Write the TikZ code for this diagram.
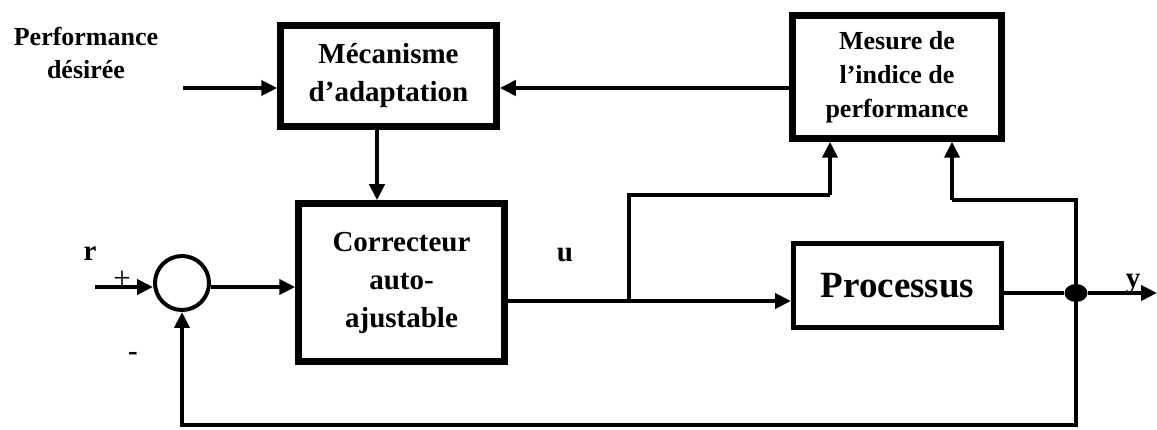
\documentclass[tikz,border=0pt]{standalone}
\usepackage{fontspec}
\setmainfont{Liberation Serif}
\usetikzlibrary{arrows.meta,calc,shapes.geometric}
\tikzset{
  blk/.style={draw, line width=6.5pt, align=center, inner sep=0pt,
    font=\bfseries\fontsize{29}{38}\selectfont},
  wire/.style={line width=4pt},
  arr/.style={wire, -{Triangle[length=16pt,width=15pt]}},
  lbl/.style={inner sep=0pt, font=\bfseries\fontsize{29}{34}\selectfont},
}
\begin{document}
\begin{tikzpicture}[x=1pt,y=-1pt]
\useasboundingbox (0,0) rectangle (1157,430);

% blocks
\node[blk, minimum width=216pt, minimum height=101pt] (meca) at (388.5,76)
  {Mécanisme\\d’adaptation};
\node[blk, minimum width=206pt, minimum height=158pt] (corr) at (401.5,282.5)
  {Correcteur\\auto-\\ajustable};
\node[blk, minimum width=209pt, minimum height=123pt,
  font=\bfseries\fontsize{26}{34}\selectfont] (mes) at (897,77)
  {Mesure de\\l’indice de\\performance};
\node[blk, line width=5pt, minimum width=208pt, minimum height=84pt,
  font=\bfseries\fontsize{37}{40}\selectfont] (proc) at (897.5,285.5) {Processus};

% summing junction and pick-off point
\node[draw, circle, line width=4pt, minimum size=54pt, inner sep=0pt] (sum) at (182,283) {};
\node[fill, ellipse, minimum width=23pt, minimum height=18pt, inner sep=0pt] (dot) at (1076,293) {};

% labels
\node[lbl, align=center, font=\bfseries\fontsize{26}{33}\selectfont] (perf) at (86,53)
  {Performance\\désirée};
\node[lbl] (rl) at (90,254) {r};
\node[inner sep=0pt, font=\fontsize{31}{31}\selectfont] (plus) at (122,280) {+};
\node[lbl] (minus) at (133,356) {-};
\node[lbl] (ul) at (565,255) {u};
\node[lbl] (yl) at (1133,284) {y};

% helper points
\coordinate (pin) at (183,88);
\coordinate (rin) at (95,287);
\coordinate (ucor) at (0,301);
\coordinate (br) at (629,301);
\coordinate (brtop) at (629,195);
\coordinate (mesin1) at (830,195);
\coordinate (ytop) at (1076,200);
\coordinate (mesin2) at (952,200);
\coordinate (fb) at (1076,425);
\coordinate (yout) at (1157,293);
\coordinate (lvl) at (0,88);

% connectors
\draw[arr] (pin) -- (meca.west |- pin);
\draw[arr] (mes.west |- lvl) -- (meca.east |- lvl);
\draw[arr] (meca.south -| 377,0) -- (corr.north -| 377,0);
\draw[arr] (rin) -- (sum.west |- rin);
\draw[arr] (sum.east |- rin) -- (corr.west |- rin);
\draw[arr] (corr.east |- ucor) -- (proc.west |- ucor);
\draw[wire] (br) -- (brtop) -- (mesin1);
\draw[arr] (mesin1) -- (mes.south -| mesin1);
\draw[wire] (proc.east |- dot) -- (dot);
\draw[arr] (dot) -- (yout);
\draw[wire] (dot) -- (ytop) -- (mesin2);
\draw[arr] (mesin2) -- (mes.south -| mesin2);
\draw[arr] (dot) -- (fb) -- (sum |- fb) -- (sum.south);
\end{tikzpicture}
\end{document}
